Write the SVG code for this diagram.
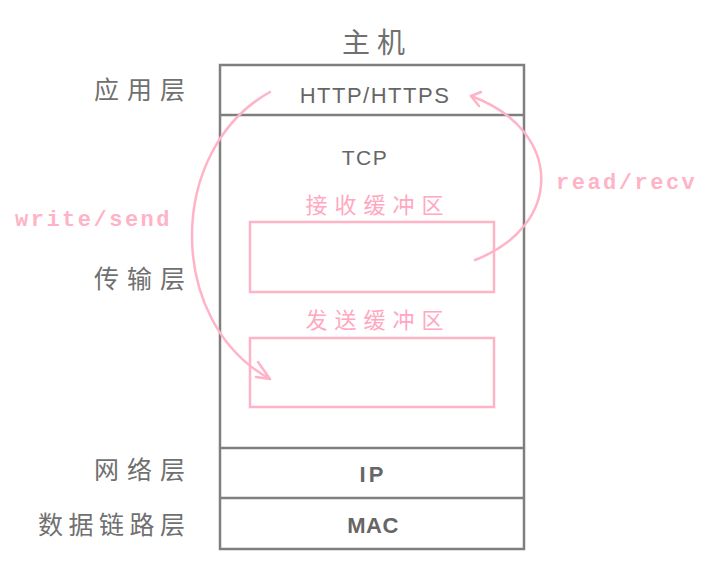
<svg xmlns="http://www.w3.org/2000/svg" width="701" height="561" viewBox="0 0 701 561">
<style>
.box{fill:none;stroke:#7f7f7f;stroke-width:2.5}
.buf{fill:none;stroke:#ffb3c7;stroke-width:2.5}
.cn{font-family:"Noto Sans CJK SC","Noto Sans",sans-serif;fill:#707070;font-size:25px;letter-spacing:8px}
.pk{font-family:"Noto Sans CJK SC","Noto Sans",sans-serif;fill:#ffa8c0;font-size:22px;letter-spacing:7px;text-anchor:middle}
.en{font-family:"Liberation Sans",Arial,sans-serif;fill:#666;font-size:22px;text-anchor:middle;letter-spacing:1.5px}
.mono{font-family:"Liberation Mono","DejaVu Sans Mono",monospace;fill:#ffb3c7;font-size:22px;font-weight:bold;letter-spacing:2.5px}
.arc{fill:none;stroke:#ffb3c7;stroke-width:2.5;stroke-linecap:round;stroke-linejoin:round}
</style>
<g id="host">
<rect class="box" x="220" y="65" width="304" height="484"/>
<text x="377" y="53" text-anchor="middle" style="font-family:'Noto Sans CJK SC',sans-serif;fill:#707070;font-size:28px;letter-spacing:7px">主机</text>
</g>
<g id="app">
<line class="box" x1="220" y1="115" x2="524" y2="115"/>
<text class="en" x="375" y="103">HTTP/HTTPS</text>
<text class="cn" x="193" y="99" text-anchor="end">应用层</text>
</g>
<g id="transport">
<text class="en" x="365" y="165" style="font-size:21px">TCP</text>
<text class="cn" x="193" y="288" text-anchor="end">传输层</text>
</g>
<g id="recvbuf">
<text class="pk" x="378" y="213">接收缓冲区</text>
<rect class="buf" x="250" y="222" width="244" height="70"/>
</g>
<g id="sendbuf">
<text class="pk" x="378" y="328">发送缓冲区</text>
<rect class="buf" x="250" y="338" width="244" height="69"/>
</g>
<g id="network">
<line class="box" x1="220" y1="448" x2="524" y2="448"/>
<text class="en" x="373" y="482" style="font-weight:bold;letter-spacing:3px">IP</text>
<text class="cn" x="193" y="479" text-anchor="end">网络层</text>
</g>
<g id="link">
<line class="box" x1="220" y1="498" x2="524" y2="498"/>
<text class="en" x="373" y="533" style="font-weight:bold;letter-spacing:0.5px">MAC</text>
<text class="cn" x="190.5" y="534" text-anchor="end" style="letter-spacing:5.5px">数据链路层</text>
</g>
<g id="connectors">
<path class="arc" d="M270,92 C166,150 166,322 270,379"/>
<polyline class="arc" points="258,362 270,379 256,377"/>
<text class="mono" x="15" y="226">write/send</text>
<path class="arc" d="M475,260 C564,226 564,130 471,96"/>
<polyline class="arc" points="481,92 471,96 479,106"/>
<text class="mono" x="556" y="189">read/recv</text>
</g>
</svg>
